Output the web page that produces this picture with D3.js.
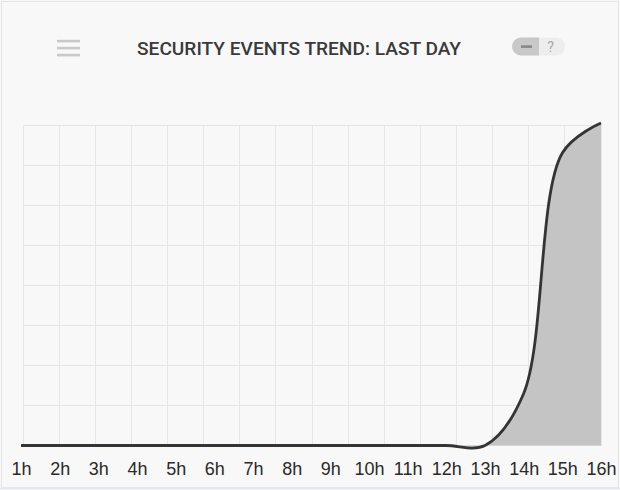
<!DOCTYPE html>
<html>
<head>
<meta charset="utf-8">
<script src="https://cdn.jsdelivr.net/npm/d3@7"></script>
<style>
  html, body { margin: 0; padding: 0; background: #ffffff; }
  svg { display: block; }
</style>
</head>
<body>
<script>
// Hourly security event counts for the last day
const hours = ["1h","2h","3h","4h","5h","6h","7h","8h","9h","10h","11h","12h","13h","14h","15h","16h"];
const events = [0, 0, 0, 0, 0, 0, 0, 0, 0, 0, 0, 0, 0, 26, 146, 161];
const yMax = 160;
const gridCols = 16;
const gridRows = 8;
const title = "SECURITY EVENTS TREND: LAST DAY";

const W = 620, H = 490;
const plot = { left: 21, right: 601, top: 125, bottom: 445.5 };

const svg = d3.select("body").append("svg")
  .attr("width", W).attr("height", H);

// panel background and frame
svg.append("rect").attr("x", 0).attr("y", 0).attr("width", W).attr("height", H)
  .attr("fill", "#f8f8f8");
svg.append("rect").attr("x", 1.5).attr("y", 1.5).attr("width", W - 3).attr("height", H - 4)
  .attr("fill", "none").attr("stroke", "#e4e4e4").attr("stroke-width", 1);
svg.append("line").attr("x1", 0).attr("x2", W).attr("y1", 488.5).attr("y2", 488.5)
  .attr("stroke", "#e3e9f1").attr("stroke-width", 2);

// header: menu icon
const menu = svg.append("g").attr("fill", "#c9c9c9");
[41, 48, 55].forEach(y => menu.append("rect")
  .attr("x", 57).attr("y", y - 1.2).attr("width", 23).attr("height", 2.6));

// header: title
svg.append("text")
  .attr("x", 137).attr("y", 54.5)
  .attr("textLength", 324).attr("lengthAdjust", "spacingAndGlyphs")
  .attr("font-family", "Roboto, 'Open Sans', sans-serif")
  .attr("font-weight", 500)
  .attr("font-size", 18.5)
  .attr("fill", "#3a3a3a")
  .text(title);

// header: collapse / help toggle
const tog = svg.append("g");
tog.append("rect").attr("x", 512).attr("y", 37.5).attr("width", 53).attr("height", 18).attr("rx", 9)
  .attr("fill", "#ededed");
tog.append("path")
  .attr("d", "M539,37.5 H521 A9,9 0 0 0 521,55.5 H539 Z")
  .attr("fill", "#c8c8c8");
tog.append("rect").attr("x", 521).attr("y", 45.3).attr("width", 11).attr("height", 2.6).attr("fill", "#888");
tog.append("text").attr("x", 550.5).attr("y", 51.5).attr("text-anchor", "middle")
  .attr("font-family", "Roboto, sans-serif").attr("font-size", 14).attr("fill", "#a8a8a8").text("?");

// scales
const x = d3.scalePoint().domain(hours).range([plot.left, plot.right]);
const y = d3.scaleLinear().domain([0, yMax]).range([plot.bottom, plot.top]);

// grid
const gx0 = 23, gx1 = 601;
const grid = svg.append("g").attr("stroke", "#e6e6e6").attr("stroke-width", 1).attr("shape-rendering", "crispEdges");
d3.range(gridCols + 1).forEach(i => {
  const gx = gx0 + (gx1 - gx0) * i / gridCols;
  grid.append("line").attr("x1", gx).attr("x2", gx).attr("y1", plot.top).attr("y2", plot.bottom);
});
y.ticks(gridRows).forEach(v => {
  grid.append("line").attr("x1", gx0).attr("x2", gx1).attr("y1", y(v)).attr("y2", y(v));
});

// area + line
const curve = d3.curveCatmullRom.alpha(0.5);
const pts = hours.map((h, i) => ({ h, v: events[i] }));
svg.append("path").datum(pts)
  .attr("fill", "#c4c4c4")
  .attr("d", d3.area().x(d => x(d.h)).y0(y(0)).y1(d => y(d.v)).curve(curve));
svg.append("path").datum(pts)
  .attr("fill", "none")
  .attr("stroke", "#343434")
  .attr("stroke-width", 2.8)
  .attr("stroke-linejoin", "round")
  .attr("d", d3.line().x(d => x(d.h)).y(d => y(d.v)).curve(curve));

// x axis labels
const axis = svg.append("g")
  .attr("transform", `translate(0,${plot.bottom})`)
  .call(d3.axisBottom(x).tickSize(0).tickPadding(16.5));
axis.select(".domain").remove();
axis.selectAll("text")
  .attr("font-family", "'Liberation Sans', Arial, sans-serif")
  .attr("font-size", 18)
  .attr("fill", "#2a2a2a");
</script>
</body>
</html>
